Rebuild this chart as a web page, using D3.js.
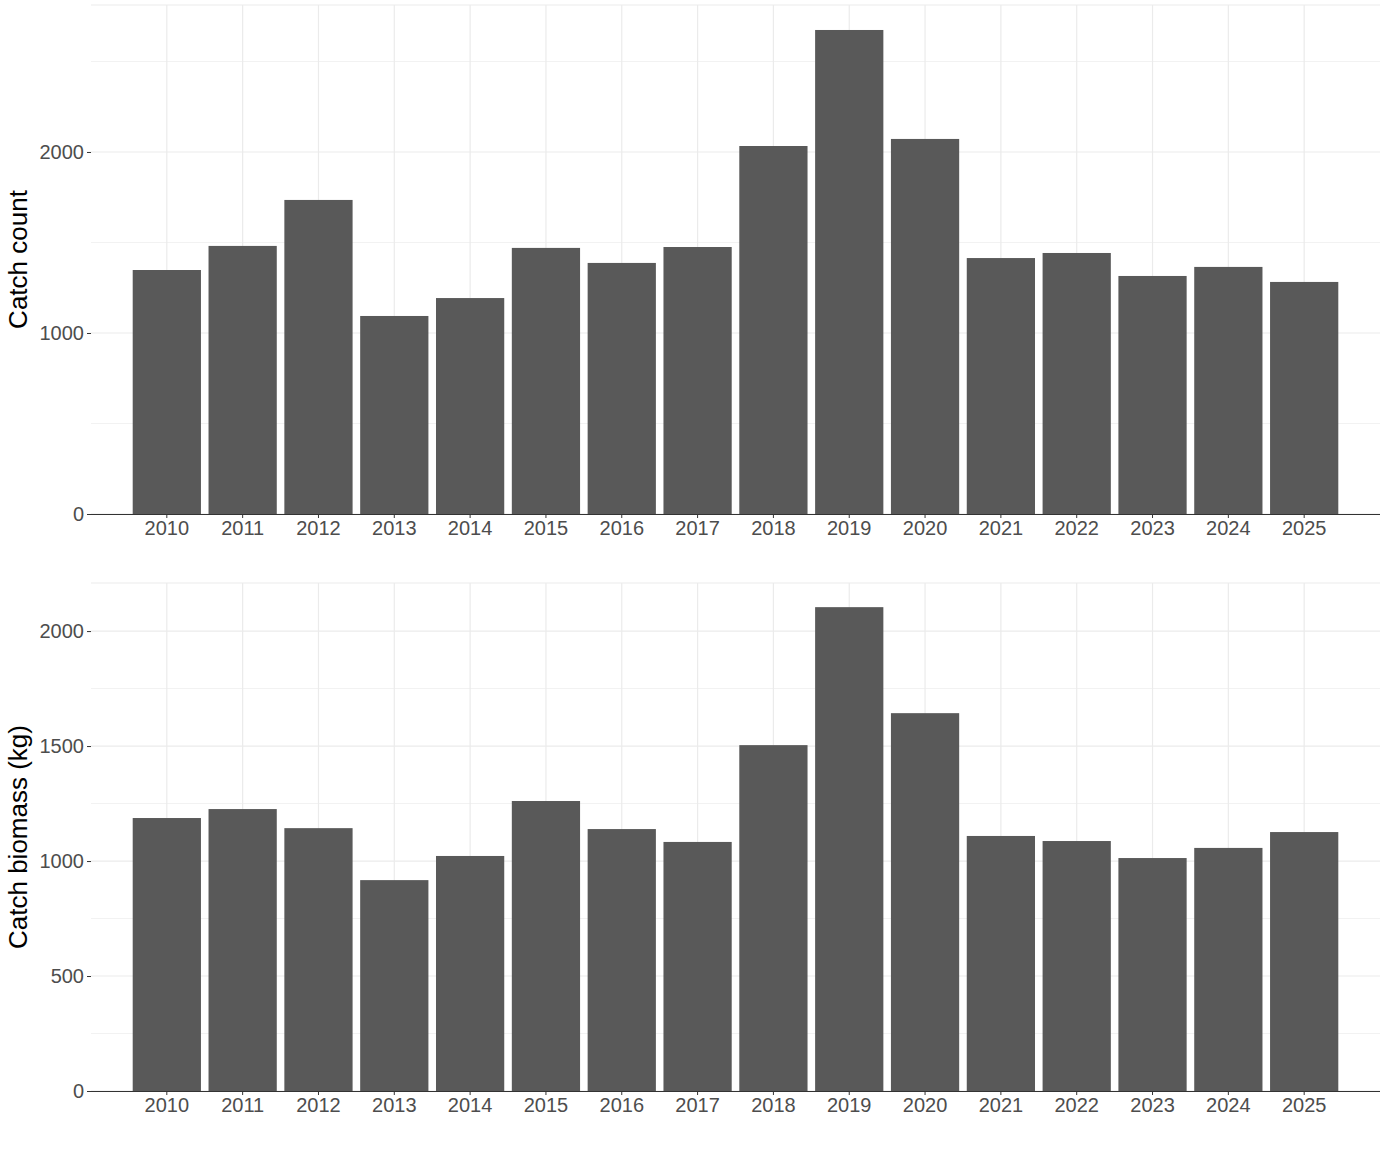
<!DOCTYPE html><html><head><meta charset="utf-8">
<script src="https://cdn.jsdelivr.net/npm/d3@7"></script>
<style>body{margin:0;background:#fff}</style></head><body>
<svg id="c" width="1386" height="1154"></svg>
<script>
const years=["2010","2011","2012","2013","2014","2015","2016","2017","2018","2019","2020","2021","2022","2023","2024","2025"];
const catchCount=[1348,1481,1735,1094,1193,1470,1387,1475,2033,2674,2072,1414,1442,1315,1365,1282];
const catchBiomass=[1187,1226,1143,917,1022,1261,1139,1083,1504,2104,1643,1109,1087,1013,1057,1126];
const countTicks=[0,1000,2000];
const biomassTicks=[0,500,1000,1500,2000];
const svg=d3.select("#c");
const font="Liberation Sans, Arial, sans-serif";
function panel(vals,ticks,top,bottom,yMax,title){
  const x=d3.scaleBand().domain(years).range([91,1380]).paddingInner(0.1).paddingOuter(0.55);
  const y=d3.scaleLinear().domain([0,yMax]).range([bottom,top]);
  const g=svg.append("g");
  const step=ticks[1]-ticks[0];
  const minor=[];for(let v=step/2;v<yMax;v+=step)minor.push(v);
  g.selectAll(".mn").data(minor).join("line").attr("x1",91).attr("x2",1380).attr("y1",d=>y(d)).attr("y2",d=>y(d)).attr("stroke","#f2f2f2").attr("stroke-width",1);
  g.selectAll(".mj").data(ticks).join("line").attr("x1",91).attr("x2",1380).attr("y1",d=>y(d)).attr("y2",d=>y(d)).attr("stroke","#ebebeb").attr("stroke-width",1.2);
  g.selectAll(".vx").data(years).join("line").attr("x1",d=>x(d)+x.bandwidth()/2).attr("x2",d=>x(d)+x.bandwidth()/2).attr("y1",top).attr("y2",bottom).attr("stroke","#ebebeb").attr("stroke-width",1.2);
  g.append("line").attr("x1",91).attr("x2",1380).attr("y1",top).attr("y2",top).attr("stroke","#ebebeb");
  g.selectAll("rect").data(vals).join("rect").attr("x",(d,i)=>x(years[i])).attr("width",x.bandwidth()).attr("y",d=>y(d)).attr("height",d=>bottom-y(d)).attr("fill","#595959");
  const xa=g.append("g").attr("transform",`translate(0,${bottom})`).call(d3.axisBottom(x).tickSize(4).tickPadding(3));
  xa.select(".domain").attr("stroke","#333").attr("d",`M91,0.5H1380`);
  xa.selectAll("line").attr("stroke","#333");
  xa.selectAll("text").attr("font-family",font).attr("font-size",20).attr("fill","#4d4d4d");
  const ya=g.append("g").attr("transform","translate(91,0)").call(d3.axisLeft(y).tickValues(ticks).tickFormat(d3.format("d")).tickSize(4).tickPadding(3));
  ya.select(".domain").remove();
  ya.selectAll("line").attr("stroke","#333");
  ya.selectAll("text").attr("font-family",font).attr("font-size",20).attr("fill","#4d4d4d");
  g.append("text").attr("transform",`translate(27,${(top+bottom)/2}) rotate(-90)`).attr("text-anchor","middle").attr("font-family",font).attr("font-size",26).attr("fill","#000").text(title);
}
panel(catchCount,countTicks,5,514,2812,"Catch count");
panel(catchBiomass,biomassTicks,583,1091,2209,"Catch biomass (kg)");
</script></body></html>
